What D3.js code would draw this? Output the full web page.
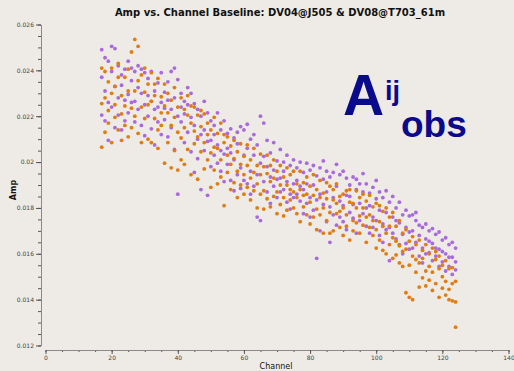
<!DOCTYPE html>
<html>
<head>
<meta charset="utf-8">
<script src="https://cdn.jsdelivr.net/npm/d3@7"></script>
<style>
  html, body { margin: 0; padding: 0; background: #eeebe7; }
  svg { display: block; }
</style>
</head>
<body>
<svg id="chart" width="514" height="371"></svg>
<script>
// Amplitude vs. channel for one baseline, two correlation products.
const channels = [17,18,19,20,21,22,23,24,25,26,27,28,29,30,31,32,33,34,35,36,37,38,39,40,
  41,42,43,44,45,46,47,48,49,50,51,52,53,54,55,56,57,58,59,60,61,62,63,64,65,66,67,68,69,70,
  71,72,73,74,75,76,77,78,79,80,81,82,83,84,85,86,87,88,89,90,91,92,93,94,95,96,97,98,99,100,
  101,102,103,104,105,106,107,108,109,110,111,112,113,114,115,116,117,118,119,120,121,122,123,124];

// Three samples per channel for each product.
const orangeAmp = [
  [.02255,.02065,.02410],[.02130,.02395,.02280],[.02350,.02170,.02225],[.02410,.02085,.02300],
  [.02195,.02330,.02250],[.02430,.02140,.02370],[.02290,.02210,.02095],[.02370,.02160,.02245],
  [.02110,.02310,.02405],[.02480,.02235,.02150],[.02535,.02310,.02200],[.02505,.02125,.02355],
  [.02240,.02380,.02085],[.02190,.02305,.02410],[.02340,.02100,.02250],[.02085,.02265,.02390],
  [.02290,.02190,.02340],[.02365,.02140,.02060],[.02160,.02285,.02215],[.02245,.01995,.02340],
  [.02085,.02215,.02300],[.02270,.01975,.02160],[.02195,.02325,.02050],[.01965,.02240,.02130],
  [.02280,.02105,.02010],[.02230,.01990,.02150],[.02055,.02205,.02290],[.02170,.01945,.02245],
  [.02240,.02080,.02135],[.01925,.02205,.02110],[.02155,.02045,.02225],[.02210,.01970,.02085],
  [.02010,.02170,.02120],[.02140,.01890,.02040],[.02065,.02195,.01965],[.01905,.02125,.02060],
  [.02170,.02010,.01935],[.01810,.02085,.02120],[.02030,.01955,.02110],[.01880,.02070,.01990],
  [.02095,.01910,.02015],[.01960,.02045,.01845],[.01900,.02080,.01990],[.02025,.01860,.01945],
  [.01985,.01890,.02075],[.01835,.02010,.01930],[.01955,.02060,.01875],[.01905,.01800,.01985],
  [.02035,.01860,.01945],[.01875,.01980,.01795],[.01950,.02030,.01840],[.01805,.01915,.01985],
  [.01930,.01850,.02010],[.01870,.01960,.01775],[.01985,.01815,.01900],[.01845,.01935,.01765],
  [.01900,.01790,.01975],[.01835,.01945,.01880],[.01960,.01800,.01870],[.01775,.01905,.01845],
  [.01880,.01960,.01740],[.01910,.01805,.01855],[.01770,.01935,.01860],[.01895,.01730,.01825],
  [.01855,.01945,.01760],[.01795,.01880,.01705],[.01920,.01770,.01845],[.01690,.01865,.01800],
  [.01840,.01745,.01910],[.01780,.01895,.01690],[.01835,.01700,.01880],[.01905,.01775,.01820],
  [.01715,.01850,.01785],[.01860,.01680,.01800],[.01770,.01875,.01720],[.01825,.01660,.01880],
  [.01745,.01820,.01700],[.01875,.01735,.01800],[.01690,.01845,.01765],[.01800,.01725,.01860],
  [.01760,.01650,.01830],[.01855,.01715,.01770],[.01680,.01805,.01745],[.01820,.01705,.01625],
  [.01740,.01660,.01810],[.01785,.01615,.01720],[.01690,.01800,.01600],[.01760,.01640,.01720],
  [.01670,.01780,.01580],[.01720,.01595,.01655],[.01635,.01745,.01560],[.01690,.01545,.01610],
  [.01620,.01705,.01430],[.01655,.01410,.01550],[.01590,.01400,.01675],[.01640,.01520,.01575],
  [.01560,.01660,.01455],[.01615,.01495,.01580],[.01525,.01640,.01460],[.01600,.01545,.01485],
  [.01520,.01625,.01440],[.01575,.01470,.01610],[.01410,.01535,.01590],[.01550,.01450,.01500],
  [.01480,.01570,.01420],[.01535,.01445,.01400],[.01470,.01540,.01395],[.01480,.01280,.01390]
];

const purpleAmp = [
  [.02490,.02205,.02370],[.02455,.02310,.02180],[.02440,.02260,.02095],[.02505,.02395,.02240],
  [.02495,.02150,.02330],[.02280,.02420,.02205],[.02380,.02335,.02140],[.02270,.02405,.02180],
  [.02440,.02215,.02295],[.02355,.02260,.02410],[.02175,.02395,.02265],[.02325,.02420,.02230],
  [.02405,.02160,.02300],[.02250,.02390,.02115],[.02365,.02200,.02290],[.02145,.02395,.02265],
  [.02310,.02075,.02230],[.02240,.02345,.02175],[.02390,.02260,.02120],[.02185,.02305,.02235],
  [.02350,.02110,.02270],[.02395,.02230,.02150],[.02410,.02280,.02055],[.02360,.01860,.02200],
  [.02175,.02300,.02240],[.02085,.02265,.02210],[.02250,.02130,.02325],[.02300,.02045,.02195],
  [.02160,.02255,.01955],[.02230,.02100,.02015],[.01880,.02200,.02120],[.02140,.02265,.02050],
  [.02215,.01855,.02090],[.02095,.02180,.01980],[.02160,.02030,.02120],[.02215,.01995,.02075],
  [.02050,.02140,.01960],[.02180,.02035,.01915],[.01990,.02125,.02060],[.02145,.01920,.02040],
  [.02010,.02105,.01875],[.02080,.01945,.02130],[.02155,.01975,.01885],[.01920,.02140,.02030],
  [.02060,.01905,.02165],[.01960,.02100,.01860],[.02030,.01895,.02120],[.01945,.02075,.01760],
  [.02200,.01995,.01745],[.02025,.01915,.02170],[.01870,.02095,.01980],[.02040,.01935,.01820],
  [.01965,.02085,.01895],[.02005,.01845,.01925],[.01930,.02055,.01870],[.02000,.01880,.01960],
  [.01825,.02030,.01915],[.01985,.01860,.01795],[.01905,.02010,.01845],[.01975,.01860,.01920],
  [.01830,.02000,.01895],[.01955,.01775,.01880],[.01905,.01995,.01820],[.01965,.01845,.01760],
  [.01790,.01900,.01985],[.01940,.01835,.01580],[.01860,.01975,.01700],[.01925,.01815,.02005],
  [.01870,.01740,.01960],[.01935,.01805,.01650],[.01845,.01955,.01770],[.01895,.01725,.01990],
  [.01830,.01945,.01760],[.01960,.01810,.01740],[.01855,.01930,.01705],[.01900,.01780,.01850],
  [.01815,.01935,.01755],[.01880,.01690,.01925],[.01820,.01905,.01745],[.01870,.01775,.01950],
  [.01800,.01905,.01720],[.01865,.01690,.01810],[.01760,.01890,.01715],[.01840,.01745,.01920],
  [.01790,.01870,.01680],[.01845,.01730,.01650],[.01780,.01875,.01705],[.01825,.01715,.01570],
  [.01760,.01850,.01690],[.01800,.01665,.01745],[.01735,.01825,.01640],[.01770,.01685,.01600],
  [.01715,.01790,.01645],[.01765,.01620,.01695],[.01700,.01770,.01625],[.01745,.01650,.01780],
  [.01680,.01590,.01725],[.01715,.01625,.01560],[.01665,.01730,.01600],[.01700,.01605,.01655],
  [.01645,.01710,.01570],[.01685,.01590,.01625],[.01620,.01695,.01545],[.01660,.01565,.01610],
  [.01600,.01670,.01525],[.01640,.01545,.01585],[.01585,.01650,.01510],[.01625,.01530,.01565]
];

const yTickValues = [0.012, 0.014, 0.016, 0.018, 0.02, 0.022, 0.024, 0.026];
const xTickValues = [0, 20, 40, 60, 80, 100, 120, 140];

const svg = d3.select("#chart");

const x = d3.scaleLinear().domain([0, 140]).range([45.5, 508.5]);
const y = d3.scaleLinear().domain([0.012, 0.026]).range([345.5, 24.5]);

// Title
svg.append("text")
  .attr("x", 280).attr("y", 16)
  .attr("text-anchor", "middle")
  .attr("font-family", "DejaVu Sans")
  .attr("font-weight", "bold")
  .attr("font-size", 10)
  .attr("fill", "#111")
  .text("Amp vs. Channel Baseline: DV04@J505 & DV08@T703_61m");

// Y axis: major ticks with labels, minor ticks without
const yMinor = d3.range(0, 29).map(i => 0.012 + i * 0.0005);
svg.append("g")
  .attr("transform", "translate(41,0)")
  .call(d3.axisLeft(y).tickValues(yMinor).tickSize(3).tickSizeOuter(0).tickFormat(""))
  .call(g => g.select(".domain").remove());
svg.append("g")
  .attr("transform", "translate(41,0)")
  .call(d3.axisLeft(y).tickValues(yTickValues).tickSize(5).tickSizeOuter(0).tickPadding(2)
    .tickFormat(d => String(d)));

// X axis
const xMinor = d3.range(0, 29).map(i => i * 5);
svg.append("g")
  .attr("transform", "translate(0,350)")
  .call(d3.axisBottom(x).tickValues(xMinor).tickSize(2).tickSizeOuter(0).tickFormat(""))
  .call(g => g.select(".domain").remove());
svg.append("g")
  .attr("transform", "translate(0,350)")
  .call(d3.axisBottom(x).tickValues(xTickValues).tickSize(4).tickSizeOuter(0).tickPadding(2));

svg.selectAll(".domain").attr("stroke", "#8a8a8a");
svg.selectAll(".tick line").attr("stroke", "#555");
svg.selectAll(".tick text")
  .attr("font-family", "DejaVu Sans")
  .attr("font-size", 6)
  .attr("fill", "#444");

// Axis titles
svg.append("text")
  .attr("x", 276).attr("y", 369)
  .attr("text-anchor", "middle")
  .attr("font-family", "DejaVu Sans")
  .attr("font-size", 8)
  .attr("fill", "#111")
  .text("Channel");

svg.append("text")
  .attr("transform", "translate(16,190) rotate(-90)")
  .attr("text-anchor", "middle")
  .attr("font-family", "DejaVu Sans")
  .attr("font-weight", "bold")
  .attr("font-size", 8)
  .attr("fill", "#111")
  .text("Amp");

// Points
const flatten = (vals) => channels.flatMap((ch, i) => vals[i].map(v => ({ ch, v })));
const series = [
  { name: "purple", color: "#a86ade", pts: flatten(purpleAmp) },
  { name: "orange", color: "#e07d12", pts: flatten(orangeAmp) }
];
series.forEach(s => {
  svg.append("g").attr("class", "pts-" + s.name)
    .selectAll("circle").data(s.pts).join("circle")
    .attr("cx", d => x(d.ch))
    .attr("cy", d => y(d.v))
    .attr("r", 1.9)
    .attr("fill", s.color);
});

// Annotation: observed visibility amplitude symbol
const note = svg.append("g")
  .attr("font-family", "Liberation Sans")
  .attr("font-weight", "bold")
  .attr("fill", "#0a0a8c");
note.append("text").attr("x", 343).attr("y", 115).attr("font-size", 57).text("A");
note.append("text").attr("x", 385).attr("y", 100).attr("font-size", 27).text("ij");
note.append("text").attr("x", 401).attr("y", 137).attr("font-size", 37).text("obs");
</script>
</body>
</html>
